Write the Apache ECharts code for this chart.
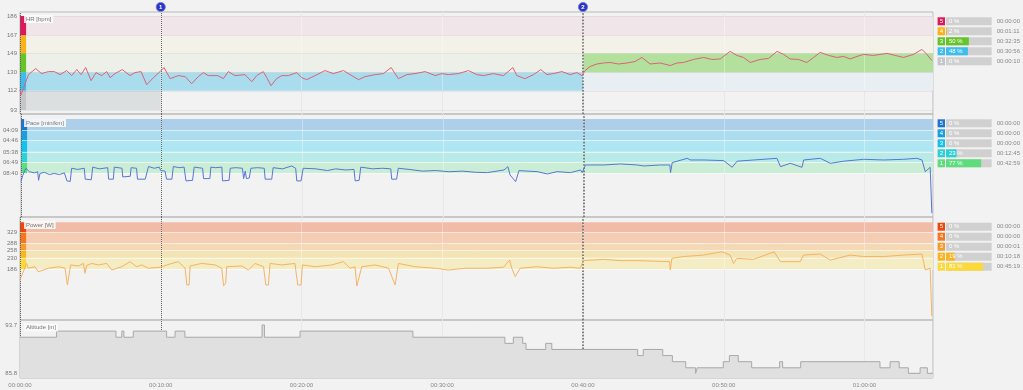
<!DOCTYPE html>
<html><head><meta charset="utf-8">
<script src="https://cdn.jsdelivr.net/npm/echarts@6/dist/echarts.min.js"></script>
<style>html,body{margin:0;padding:0;background:#f2f2f2;}#c{width:1023px;height:390px;}</style>
</head><body><div id="c"></div>
<script>
// ---------------- DATA ----------------
const totalSeconds = 3892;
const lapStarts = [0, 600, 2400];
const lapLabels = ['1', '2'];

// HR [time s, bpm]
const hrData = [[0,113],[4,108],[14,114],[36,128],[67,134],[92,129],[121,131],[146,131],[171,128],[199,132],[220,127],[242,133],[260,128],[280,135],[303,122],[324,130],[348,127],[370,131],[384,125],[405,129],[436,133],[469,127],[490,130],[516,131],[540,118],[569,125],[597,131],[614,135],[640,124],[675,127],[704,126],[732,119],[760,126],[782,130],[803,127],[843,127],[867,124],[888,131],[917,127],[959,128],[988,121],[1009,127],[1037,131],[1052,125],[1070,117],[1094,124],[1116,127],[1144,127],[1180,130],[1201,125],[1222,123],[1258,127],[1300,132],[1336,129],[1379,132],[1407,128],[1443,123],[1471,126],[1514,128],[1549,129],[1582,135],[1613,124],[1649,128],[1684,129],[1727,131],[1770,127],[1798,129],[1826,128],[1869,129],[1912,132],[1947,128],[1976,127],[2018,129],[2061,127],[2101,135],[2118,127],[2153,124],[2189,128],[2220,133],[2246,128],[2274,129],[2310,131],[2345,128],[2374,130],[2395,127],[2409,132],[2430,136],[2459,138.5],[2487,139.5],[2516,140],[2551,138.5],[2587,139.5],[2622,141],[2651,145],[2686,138.5],[2729,139.5],[2772,137],[2800,139.5],[2828,140],[2871,143],[2914,145],[2949,143],[2985,143.5],[3027,151],[3056,147],[3084,145],[3113,140],[3155,143],[3191,144],[3227,151],[3255,148],[3283,143.5],[3319,143],[3354,140],[3383,145],[3411,150],[3447,147],[3482,145],[3511,146],[3539,143.5],[3568,146],[3596,148],[3638,147],[3696,149],[3731,147],[3766,145],[3809,148],[3845,153],[3866,148],[3887,142]];

// Pace as speed [time s, km/h]
const paceData = [[0,5.5],[7,6.5],[14,7.2],[21,7.8],[36,7.2],[57,7.0],[71,7.2],[75,5.7],[81,6.9],[100,7.1],[121,6.7],[142,6.9],[164,6.7],[185,7.0],[192,6.9],[196,5.6],[210,5.5],[216,7.8],[242,7.6],[270,7.8],[274,5.9],[300,5.8],[306,8.0],[334,7.7],[370,7.9],[374,5.9],[394,5.9],[398,8.0],[431,7.8],[434,6.3],[466,6.4],[470,7.9],[493,7.8],[497,5.9],[530,5.9],[544,8.1],[569,7.8],[590,8.0],[596,7.4],[615,7.3],[621,5.9],[644,5.9],[650,8.1],[675,7.9],[696,8.0],[704,5.6],[732,5.7],[739,8.0],[775,7.8],[779,6.0],[806,6.0],[810,8.0],[831,7.9],[857,8.0],[860,5.6],[888,5.7],[893,7.8],[917,7.9],[945,7.8],[950,6.0],[957,7.3],[962,6.0],[974,6.1],[981,7.8],[1009,7.9],[1038,7.8],[1042,5.9],[1070,5.9],[1076,7.9],[1116,7.7],[1155,8.2],[1172,7.8],[1177,5.6],[1195,5.6],[1204,7.8],[1258,7.7],[1308,7.4],[1343,7.7],[1386,7.5],[1421,7.6],[1426,5.6],[1443,5.7],[1450,8.0],[1500,7.7],[1542,7.8],[1578,7.7],[1582,5.9],[1603,5.9],[1610,7.8],[1656,7.6],[1713,7.3],[1770,7.4],[1826,7.2],[1883,7.3],[1940,7.1],[1990,7.04],[2061,7.5],[2078,8.08],[2087,6.63],[2111,5.47],[2125,7.39],[2203,7.21],[2246,6.81],[2288,7.21],[2345,7.04],[2388,7.5],[2395,7.04],[2409,8.37],[2487,8.37],[2558,8.55],[2630,8.37],[2658,8.2],[2729,8.37],[2769,8.37],[2772,7.04],[2779,8.78],[2843,9.53],[2857,9.24],[2914,9.24],[2999,9.13],[3035,7.97],[3056,9.03],[3127,9.24],[3226,9.53],[3241,8.08],[3283,8.66],[3333,7.97],[3340,9.24],[3411,9.53],[3454,8.66],[3511,9.03],[3596,9.36],[3681,9.24],[3767,9.36],[3823,9.53],[3845,9.24],[3859,7.21],[3880,7.97],[3887,0]];

// Power [time s, W]
const powerData = [[0,143],[28,208],[35,189],[64,195],[78,175],[121,189],[164,195],[192,189],[202,123],[210,123],[216,202],[249,198],[270,208],[277,169],[284,200],[306,208],[334,202],[370,208],[391,182],[434,195],[469,215],[497,195],[519,202],[547,189],[597,193],[647,208],[675,215],[704,189],[711,123],[721,123],[725,198],[775,208],[832,202],[860,189],[868,120],[877,130],[881,195],[945,198],[974,182],[1002,208],[1038,195],[1048,123],[1059,123],[1066,208],[1116,202],[1172,208],[1184,123],[1198,123],[1204,202],[1258,195],[1329,202],[1379,215],[1407,189],[1428,195],[1436,119],[1443,119],[1457,195],[1514,202],[1571,189],[1599,123],[1606,123],[1613,208],[1684,195],[1770,189],[1826,182],[1898,189],[1969,189],[1990,189],[2061,193],[2087,221],[2096,190],[2111,156],[2132,189],[2203,195],[2274,189],[2345,193],[2388,189],[2402,219],[2487,224],[2558,219],[2630,219],[2769,215],[2772,182],[2779,228],[2828,235],[2914,241],[2992,254],[3027,241],[3042,208],[3056,228],[3127,224],[3215,254],[3241,215],[3326,215],[3340,241],[3411,245],[3454,221],[3539,241],[3596,235],[3681,235],[3767,241],[3845,245],[3859,182],[3880,189],[3887,0]];

// Altitude [time s, m] (level holds until next point)
const altData = [[0,91.7],[156,92.7],[409,91.7],[434,92.7],[443,91.7],[483,92.7],[625,91.7],[661,92.7],[703,91.7],[1032,93.7],[1042,91.7],[1194,92.7],[1675,91.7],[2067,90.7],[2103,91.7],[2143,90.7],[2157,89.7],[2241,90.7],[2267,89.7],[2633,88.7],[2657,89.7],[2740,88.7],[2781,87.7],[2838,86.7],[2880,85.8],[2887,86.7],[2998,87.7],[3024,88.7],[3062,87.7],[3119,86.7],[3238,87.7],[3251,86.7],[3328,87.7],[3666,86.7],[3709,87.7],[3748,86.7],[3787,85.8],[3837,86.7],[3868,85.8],[3892,85.8]];

// Zone boundaries (top of zone 5 ... bottom of zone 1) and tick labels
const hrZoneBounds = [186, 167, 149, 130, 112, 93];
const hrTicks = [93, 112, 130, 149, 167, 186];
const paceZoneBounds = ['03:40', '04:09', '04:46', '05:38', '06:49', '08:40'];
const paceTicks = ['04:09', '04:46', '05:38', '06:49', '08:40'];
const powerZoneBounds = [370, 329, 288, 258, 230, 186];
const powerTicks = [186, 230, 258, 288, 329];
const altTicks = [85.8, 93.7];
const timeTickStep = 600;

// Zone summary tables (zone 5 ... zone 1)
const zoneNames = ['5', '4', '3', '2', '1'];
const hrZonePct = [0, 2, 50, 48, 0];
const hrZoneTime = ['00:00:00', '00:01:11', '00:32:35', '00:30:56', '00:00:10'];
const paceZonePct = [0, 0, 0, 23, 77];
const paceZoneTime = ['00:00:00', '00:00:00', '00:00:00', '00:12:45', '00:42:59'];
const powerZonePct = [0, 0, 0, 19, 81];
const powerZoneTime = ['00:00:00', '00:00:00', '00:00:01', '00:10:18', '00:45:19'];

const panelTitles = ['HR [bpm]', 'Pace [min/km]', 'Power [W]', 'Altitude [m]'];

// ---------------- STYLE ----------------
const FONT = 'Liberation Sans, Arial, sans-serif';
const hrColors = ['#e0185a', '#f8b31a', '#66c42a', '#3cbdee', '#c3c7c9'];
const paceColors = ['#1f74d2', '#1a9ee0', '#14c0ef', '#2dd0d6', '#5edc7e'];
const powerColors = ['#f0460a', '#f6761e', '#f99a30', '#fab420', '#fbd93a'];
const hrLapBands = [
  ['#f0e6ea', '#f3f1e8', '#ecf0e8', '#a9ddee', '#dcdfe0'],
  ['#f0e6ea', '#f3f1e8', '#ecf0e8', '#a9ddee', null],
  ['#f0e6ea', '#f3f1e8', '#b3e09d', '#e8eef1', null]
];
const paceBands = ['#aecfea', '#acdcef', '#aee6f3', '#b9eae7', '#c9eed5'];
const powerBands = ['#f0bca8', '#f4cdb3', '#f5d8b5', '#f4e3b4', '#f4ecc2'];
const STRIP = 26; // seconds width of left zone colour strip

const paceToSpeed = p => { const [m, s] = p.split(':').map(Number); return 3600 / (m * 60 + s); };
const speedToPace = v => { const sec = Math.round(3600 / v); return String(Math.floor(sec / 60)).padStart(2, '0') + ':' + String(sec % 60).padStart(2, '0'); };
const fmtHMS = s => { s = Math.round(s); const h = Math.floor(s / 3600), m = Math.floor(s % 3600 / 60), ss = s % 60; return [h, m, ss].map(v => String(v).padStart(2, '0')).join(':'); };

const paceBoundSpeeds = paceZoneBounds.map(paceToSpeed);
const lapEnds = lapStarts.slice(1).concat([totalSeconds]);
const innerTicks = [];
for (let t = timeTickStep; t < totalSeconds; t += timeTickStep) innerTicks.push(t);

function bandsUniform(bounds, colors, stripColors) {
  const out = [];
  for (let z = 0; z < 5; z++) {
    out.push([{ xAxis: 0, yAxis: bounds[z + 1], itemStyle: { color: colors[z] } }, { xAxis: totalSeconds, yAxis: bounds[z] }]);
  }
  for (let z = 0; z < 5; z++) {
    out.push([{ xAxis: 0, yAxis: bounds[z + 1], itemStyle: { color: stripColors[z] } }, { xAxis: STRIP, yAxis: bounds[z] }]);
  }
  return out;
}
function hrBands() {
  const out = [];
  lapStarts.forEach((ls, k) => {
    hrLapBands[k].forEach((c, z) => {
      if (!c) return;
      out.push([{ xAxis: ls, yAxis: hrZoneBounds[z + 1], itemStyle: { color: c } }, { xAxis: lapEnds[k], yAxis: hrZoneBounds[z] }]);
    });
  });
  for (let z = 0; z < 5; z++) {
    out.push([{ xAxis: 0, yAxis: hrZoneBounds[z + 1], itemStyle: { color: hrColors[z] } }, { xAxis: STRIP, yAxis: hrZoneBounds[z] }]);
  }
  return out;
}
function lapLines(extraY, yColor) {
  const d = [];
  innerTicks.forEach(t => d.push({ xAxis: t, lineStyle: { type: 'solid', color: 'rgba(255,255,255,0.35)', width: 1 } }));
  (extraY || []).forEach(v => d.push({ yAxis: v, lineStyle: { type: 'solid', color: yColor, width: 1 } }));
  lapStarts.forEach((t, k) => d.push({ xAxis: t, lineStyle: { type: 'dotted', color: '#666', width: k === 2 ? 1.6 : 1 } }));
  return { silent: true, symbol: 'none', label: { show: false }, animation: false, data: d };
}

const L = 20, W = 913;
const mainGrids = [
  { left: L, width: W, top: 12, height: 102 },
  { left: L, width: W, top: 114, height: 103 },
  { left: L, width: W, top: 217, height: 103 },
  { left: L, width: W, top: 320, height: 58 }
];
const legendTops = [16.3, 118.3, 221.7];

const grids = mainGrids.map(g => Object.assign({ show: true, borderColor: '#b9b9b9', borderWidth: 1, backgroundColor: 'transparent' }, g))
  .concat(legendTops.map(t => ({ left: 946, width: 46, top: t, height: 50 })));

const xAxes = mainGrids.map((g, i) => ({
  type: 'value', gridIndex: i, min: 0, max: totalSeconds, interval: timeTickStep,
  axisLine: { show: false }, axisTick: { show: false },
  axisLabel: { show: i === 3, showMaxLabel: false, formatter: fmtHMS, fontSize: 6, color: '#888', fontFamily: FONT, margin: 4 },
  splitLine: { show: true, lineStyle: { color: '#dcdcdc', width: 1 } }
})).concat(legendTops.map((t, i) => ({ type: 'value', gridIndex: 4 + i, min: 0, max: 100, show: false })));

const ylab = { fontSize: 6, color: '#777', fontFamily: FONT, margin: 3 };
const yAxes = [
  { type: 'value', gridIndex: 0, min: 89, max: 190, splitLine: { show: false }, axisLine: { show: false }, axisTick: { show: false },
    axisLabel: Object.assign({ customValues: hrTicks }, ylab) },
  { type: 'value', gridIndex: 1, min: -0.68, max: 17.24, splitLine: { show: false }, axisLine: { show: false }, axisTick: { show: false },
    axisLabel: Object.assign({ customValues: paceTicks.map(paceToSpeed), formatter: v => speedToPace(v) }, ylab) },
  { type: 'value', gridIndex: 2, min: -15, max: 391, splitLine: { show: false }, axisLine: { show: false }, axisTick: { show: false },
    axisLabel: Object.assign({ customValues: powerTicks }, ylab) },
  { type: 'value', gridIndex: 3, min: 85.03, max: 94.52, splitLine: { show: false }, axisLine: { show: false }, axisTick: { show: false },
    axisLabel: Object.assign({ customValues: altTicks, formatter: v => v.toFixed(1) }, ylab) }
];

const legendSets = [
  { pct: hrZonePct, time: hrZoneTime, colors: hrColors },
  { pct: paceZonePct, time: paceZoneTime, colors: paceColors },
  { pct: powerZonePct, time: powerZoneTime, colors: powerColors }
];
legendSets.forEach((s, i) => {
  const rich = {};
  zoneNames.forEach((n, z) => { rich['z' + z] = { backgroundColor: s.colors[z], color: '#fff', width: 7.4, height: 8, lineHeight: 8, align: 'center', fontSize: 6, fontFamily: FONT }; });
  yAxes.push({ type: 'category', gridIndex: 4 + i, data: zoneNames, inverse: true, axisLine: { show: false }, axisTick: { show: false },
    axisLabel: { interval: 0, margin: 1, formatter: (v, idx) => `{z${idx}|${v}}`, rich } });
  yAxes.push({ type: 'category', gridIndex: 4 + i, position: 'right', data: s.time, inverse: true, axisLine: { show: false }, axisTick: { show: false },
    axisLabel: { interval: 0, margin: 5, fontSize: 6, color: '#888', fontFamily: FONT } });
});

const series = [
  { type: 'line', xAxisIndex: 0, yAxisIndex: 0, data: hrData, showSymbol: false, lineStyle: { color: '#dc6276', width: 1 }, z: 5,
    markArea: { silent: true, data: hrBands() }, markLine: lapLines(hrTicks, 'rgba(0,0,0,0.05)') },
  { type: 'line', xAxisIndex: 1, yAxisIndex: 1, data: paceData, showSymbol: false, lineStyle: { color: '#5677d6', width: 1 }, z: 5,
    markArea: { silent: true, data: bandsUniform(paceBoundSpeeds, paceBands, paceColors) }, markLine: lapLines(paceBoundSpeeds.slice(1), 'rgba(255,255,255,0.55)') },
  { type: 'line', xAxisIndex: 2, yAxisIndex: 2, data: powerData, showSymbol: false, lineStyle: { color: '#f6b363', width: 1 }, z: 5,
    markArea: { silent: true, data: bandsUniform(powerZoneBounds, powerBands, powerColors) }, markLine: lapLines(powerZoneBounds.slice(1), 'rgba(255,255,255,0.55)') },
  { type: 'line', xAxisIndex: 3, yAxisIndex: 3, data: altData, step: 'end', showSymbol: false, lineStyle: { color: '#a8a8a8', width: 1 },
    areaStyle: { color: '#e0e0e0', opacity: 1 }, z: 5, markLine: lapLines([altTicks[0]], '#c4c4c4') }
];
legendSets.forEach((s, i) => {
  series.push({ type: 'bar', xAxisIndex: 4 + i, yAxisIndex: 4 + 2 * i, data: s.pct.map(() => 100), barWidth: 8, silent: true,
    itemStyle: { color: '#d0d0d0' }, barGap: '-100%', animation: false });
  series.push({ type: 'bar', xAxisIndex: 4 + i, yAxisIndex: 4 + 2 * i, data: s.pct.map((v, z) => ({ value: v, itemStyle: { color: s.colors[z] } })),
    barWidth: 8, barGap: '-100%', silent: true, animation: false,
    label: { show: true, position: 'insideLeft', distance: 3, formatter: p => p.value + ' %', color: '#fff', fontSize: 6, fontFamily: FONT } });
});

const titleTops = [15, 119, 221, 323.5];
const titles = panelTitles.map((t, i) => ({
  text: t, left: 24, top: titleTops[i], padding: [1, 2], backgroundColor: 'rgba(252,252,252,0.85)',
  textStyle: { fontSize: 6, color: '#777', fontWeight: 'normal', fontFamily: FONT }
}));

const chart = echarts.init(document.getElementById('c'), null, { renderer: 'canvas' });
chart.setOption({
  animation: false, backgroundColor: '#f2f2f2',
  title: titles, grid: grids, xAxis: xAxes, yAxis: yAxes, series
});

// lap number badges above top panel
const badges = lapStarts.slice(1).map((t, i) => {
  const px = chart.convertToPixel({ xAxisIndex: 0 }, t);
  return { type: 'group', x: px, y: 7, children: [
    { type: 'circle', shape: { cx: 0, cy: 0, r: 4.6 }, style: { fill: '#2b36c4', stroke: '#6f78d8', lineWidth: 0.8 } },
    { type: 'text', style: { text: lapLabels[i], x: 0, y: 0, fill: '#fff', font: 'bold 6px ' + FONT, textAlign: 'center', textVerticalAlign: 'middle' } }
  ] };
});
chart.setOption({ graphic: badges });
</script></body></html>
